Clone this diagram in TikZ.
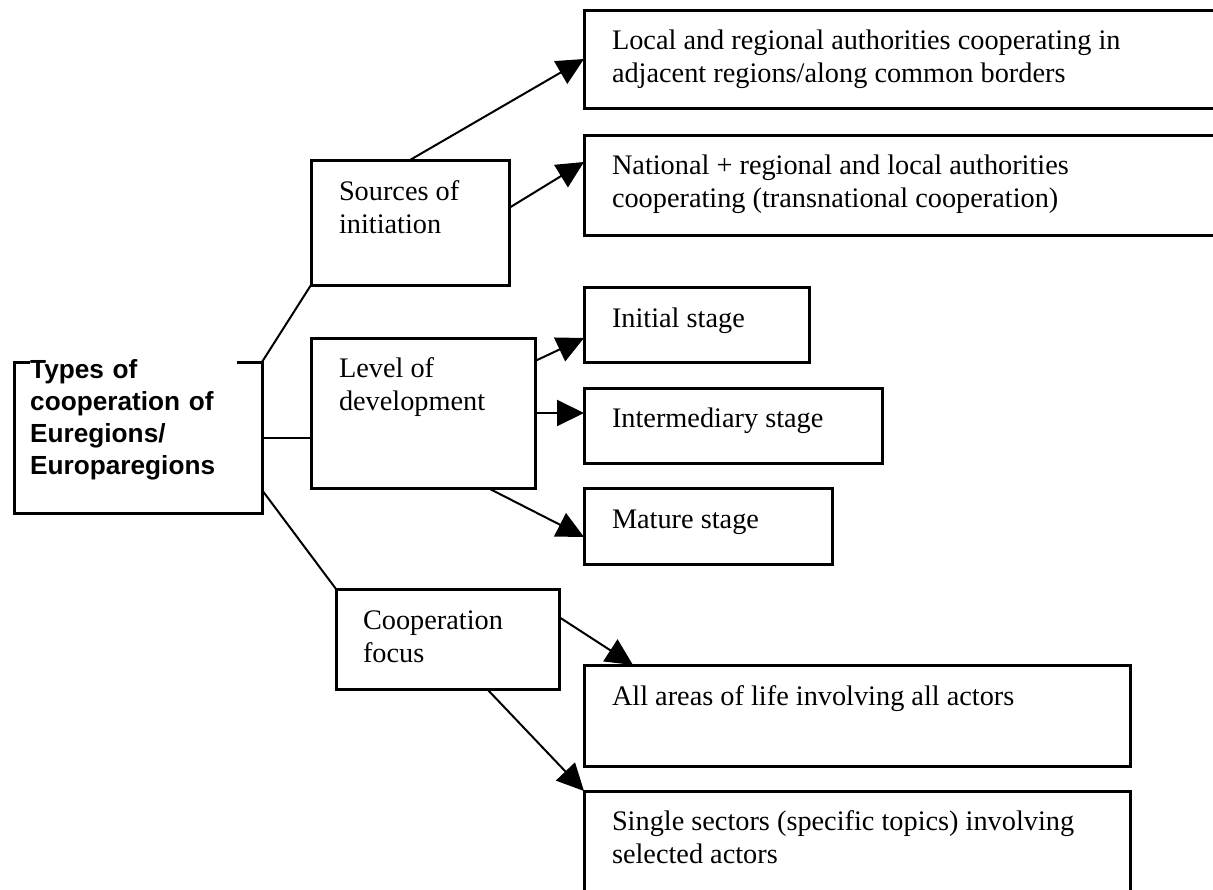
\documentclass[tikz,border=0pt]{standalone}
\usepackage{fontspec}
\setmainfont{Liberation Serif}
\newfontfamily\arialfont{Liberation Sans}
\usetikzlibrary{arrows.meta}
\newcommand\rootfont{\arialfont\bfseries\fontsize{26.2}{32.2}\selectfont}
\newcommand\boxfont{\fontsize{28.3}{32.8}\selectfont}
\begin{document}
\begin{tikzpicture}[x=1pt,y=-1pt,
  box/.style={draw, line width=3pt, inner sep=0pt, outer sep=0pt, anchor=north west},
  lbl/.style={anchor=base west, inner sep=0pt, outer sep=0pt, align=left, font=\boxfont},
  link/.style={line width=2pt},
  arr/.style={line width=2pt, -{Triangle[length=27pt,width=26pt]}},
]
\clip (0,0) rectangle (1213,889);
\fill[white] (0,0) rectangle (1213,889);

% boxes
\node[box, minimum width=248pt, minimum height=151pt] (root) at (14,362) {};
\node[box, minimum width=198pt, minimum height=125pt] (src) at (311,160) {};
\node[box, minimum width=224pt, minimum height=150pt] (lev) at (311,338) {};
\node[box, minimum width=223pt, minimum height=100pt] (foc) at (336,589) {};
\node[box, minimum width=656pt, minimum height=98pt] (b1) at (584,10) {};
\node[box, minimum width=656pt, minimum height=100pt] (b2) at (584,135) {};
\node[box, minimum width=225pt, minimum height=75pt] (b3) at (584,287) {};
\node[box, minimum width=298pt, minimum height=75pt] (b4) at (584,388) {};
\node[box, minimum width=248pt, minimum height=76pt] (b5) at (584,488) {};
\node[box, minimum width=546pt, minimum height=101pt] (b6) at (584,665) {};
\node[box, minimum width=546pt, minimum height=130pt] (b7) at (584,791) {};

% labels
\node[anchor=base west, text width=207pt, fill=white, inner sep=0pt, align=left, font=\rootfont] (rootT) at (30,378) {Types of\\cooperation of\\Euregions/\\Europaregions};
\node[lbl] (srcT) at (339,233) {Sources of\\initiation};
\node[lbl] (levT) at (339,410) {Level of\\development};
\node[lbl] (focT) at (363,662) {Cooperation\\focus};
\node[lbl] (b1T) at (612,82) {Local and regional authorities cooperating in\\adjacent regions/along common borders};
\node[lbl] (b2T) at (612,207) {National + regional and local authorities\\cooperating (transnational cooperation)};
\node[lbl] (b3T) at (612,327) {Initial stage};
\node[lbl] (b4T) at (612,427) {Intermediary stage};
\node[lbl] (b5T) at (612,528) {Mature stage};
\node[lbl] (b6T) at (612,705) {All areas of life involving all actors};
\node[lbl] (b7T) at (612,863) {Single sectors (specific topics) involving\\selected actors};

% connectors from root
\draw[link] (root.north east) -- (src.south west);
\draw[link] (root.east) -- (lev.west |- root.east);
\draw[link] ([yshift=-52.5pt]root.east) -- (foc.north west);

% arrows
\draw[arr] (src.north) -- (b1.west);
\draw[arr] ([yshift=14.5pt]src.east) -- ([yshift=23pt]b2.west);
\draw[arr] ([yshift=52pt]lev.east) -- ([yshift=-13.5pt]b3.west);
\draw[arr] (lev.east) -- (b4.west |- lev.east);
\draw[arr] ([xshift=65pt]lev.south) -- ([yshift=-11pt]b5.west);
\draw[arr] ([yshift=22pt]foc.east) -- ([xshift=49pt]b6.north west);
\draw[arr] ([xshift=39.5pt]foc.south) -- (b7.north west);
\end{tikzpicture}
\end{document}
